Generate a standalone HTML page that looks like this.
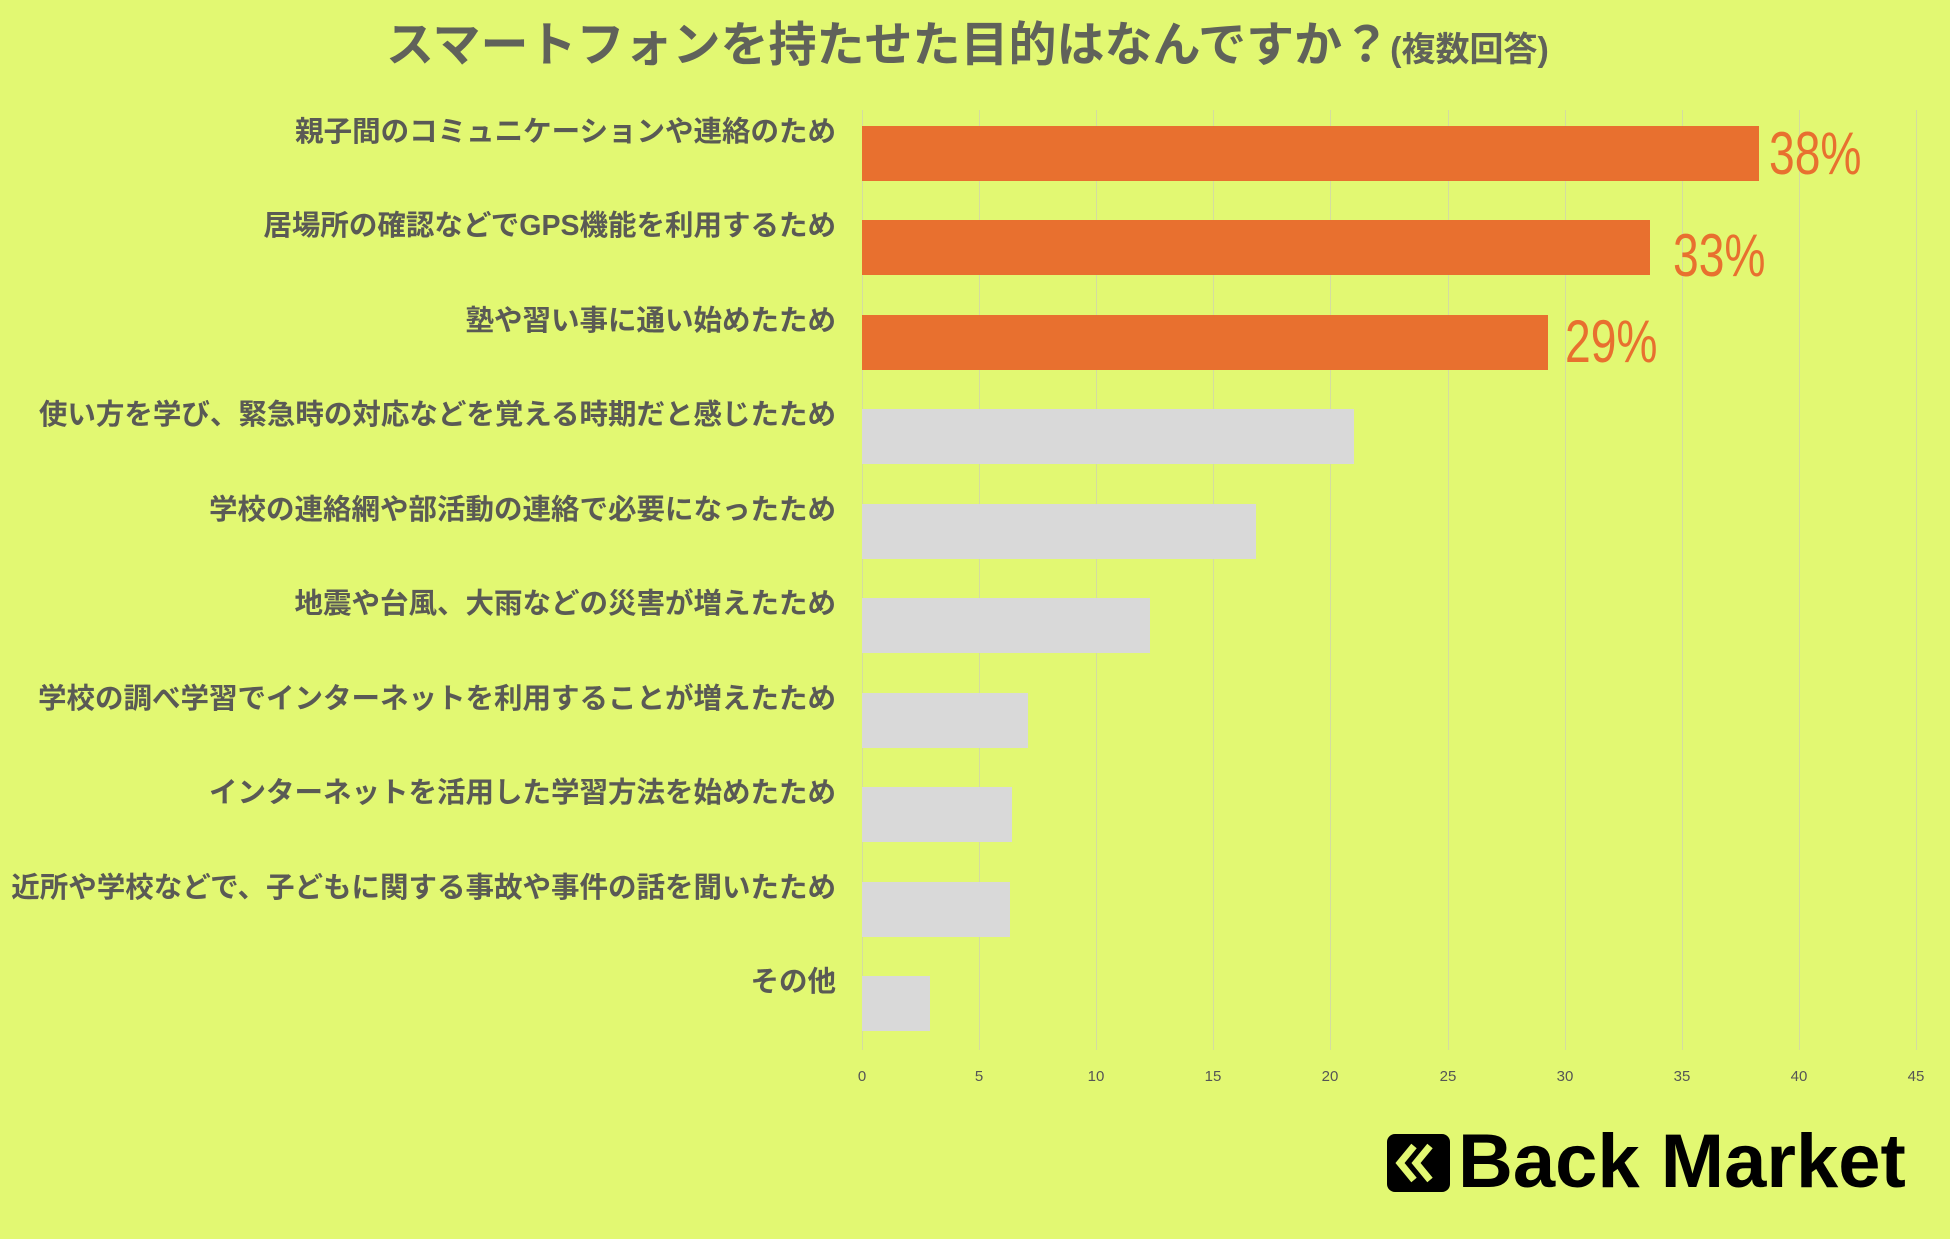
<!DOCTYPE html>
<html><head><meta charset="utf-8">
<style>
html,body{margin:0;padding:0;}
body{width:1950px;height:1239px;background:#e2f872;position:relative;overflow:hidden;font-family:"Liberation Sans","Noto Sans CJK JP",sans-serif;}
.t{position:absolute;white-space:nowrap;}
.lab{position:absolute;right:1114px;font-size:28.5px;font-weight:bold;color:#5a5a55;white-space:nowrap;line-height:1;}
.bar{position:absolute;left:862px;height:55px;}
.g{position:absolute;top:110px;height:940px;width:1px;background:#d4dca0;}
.tick{position:absolute;top:1068px;font-size:15px;color:#555;transform:translateX(-50%);}
.pct{position:absolute;font-size:60px;color:#e8702f;line-height:1;font-family:"Liberation Sans",sans-serif;transform:scaleX(0.77);transform-origin:left top;}
</style></head><body>
<div class="t" style="left:386px;top:5px;font-size:48px;font-weight:bold;color:#60625a;">スマートフォンを持たせた目的はなんですか？<span style="font-size:34px;">(複数回答)</span></div>

<div class="g" style="left:862px"></div>
<div class="g" style="left:979px"></div>
<div class="g" style="left:1096px"></div>
<div class="g" style="left:1213px"></div>
<div class="g" style="left:1330px"></div>
<div class="g" style="left:1448px"></div>
<div class="g" style="left:1565px"></div>
<div class="g" style="left:1682px"></div>
<div class="g" style="left:1799px"></div>
<div class="g" style="left:1916px"></div>

<div class="bar" style="top:126px;width:897px;background:#e8702f"></div>
<div class="bar" style="top:220px;width:788px;background:#e8702f"></div>
<div class="bar" style="top:315px;width:686px;background:#e8702f"></div>
<div class="bar" style="top:409px;width:492px;background:#d9d9d9"></div>
<div class="bar" style="top:504px;width:394px;background:#d9d9d9"></div>
<div class="bar" style="top:598px;width:288px;background:#d9d9d9"></div>
<div class="bar" style="top:693px;width:166px;background:#d9d9d9"></div>
<div class="bar" style="top:787px;width:150px;background:#d9d9d9"></div>
<div class="bar" style="top:882px;width:148px;background:#d9d9d9"></div>
<div class="bar" style="top:976px;width:68px;background:#d9d9d9"></div>

<div class="pct" style="left:1769px;top:124px;">38%</div>
<div class="pct" style="left:1673px;top:226px;">33%</div>
<div class="pct" style="left:1565px;top:312px;">29%</div>

<div class="lab" style="top:118px">親子間のコミュニケーションや連絡のため</div>
<div class="lab" style="top:212px">居場所の確認などでGPS機能を利用するため</div>
<div class="lab" style="top:307px">塾や習い事に通い始めたため</div>
<div class="lab" style="top:401px">使い方を学び、緊急時の対応などを覚える時期だと感じたため</div>
<div class="lab" style="top:496px">学校の連絡網や部活動の連絡で必要になったため</div>
<div class="lab" style="top:590px">地震や台風、大雨などの災害が増えたため</div>
<div class="lab" style="top:685px">学校の調べ学習でインターネットを利用することが増えたため</div>
<div class="lab" style="top:779px">インターネットを活用した学習方法を始めたため</div>
<div class="lab" style="top:874px">近所や学校などで、子どもに関する事故や事件の話を聞いたため</div>
<div class="lab" style="top:968px">その他</div>

<div class="tick" style="left:862px">0</div>
<div class="tick" style="left:979px">5</div>
<div class="tick" style="left:1096px">10</div>
<div class="tick" style="left:1213px">15</div>
<div class="tick" style="left:1330px">20</div>
<div class="tick" style="left:1448px">25</div>
<div class="tick" style="left:1565px">30</div>
<div class="tick" style="left:1682px">35</div>
<div class="tick" style="left:1799px">40</div>
<div class="tick" style="left:1916px">45</div>

<div style="position:absolute;left:1387px;top:1134px;width:63px;height:58px;background:#000;border-radius:8px;"></div>
<svg style="position:absolute;left:1387px;top:1134px" width="63" height="58"><polyline points="27,12 13,29 27,46" fill="none" stroke="#e2f872" stroke-width="7"/><polyline points="43,12 29,29 43,46" fill="none" stroke="#e2f872" stroke-width="7"/></svg>
<div class="t" style="left:1458px;top:1124px;font-size:76px;font-weight:bold;color:#000;line-height:1;">Back Market</div>
</body></html>
